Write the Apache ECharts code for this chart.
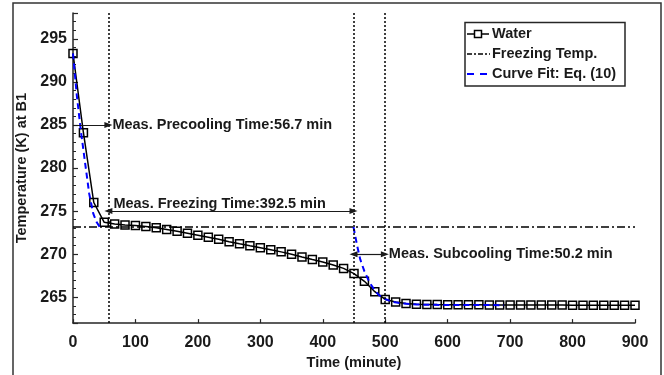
<!DOCTYPE html>
<html>
<head>
<meta charset="utf-8">
<script src="https://cdn.jsdelivr.net/npm/echarts@6/dist/echarts.min.js"></script>
<style>html,body{margin:0;padding:0;background:#fff;}#c{width:664px;height:375px;}</style>
</head>
<body>
<div id="c"></div>
<script>
// ---- data ----
const waterTime = [0,16.7,33.3,50,66.7,83.3,100,116.7,133.3,150,166.7,183.3,200,216.7,233.3,250,266.7,283.3,300,316.7,333.3,350,366.7,383.3,400,416.7,433.3,450,466.7,483.3,500,516.7,533.3,550,566.7,583.3,600,616.7,633.3,650,666.7,683.3,700,716.7,733.3,750,766.7,783.3,800,816.7,833.3,850,866.7,883.3,900];
const waterTemp = [293.3,284.1,276.0,273.7,273.5,273.4,273.32,273.22,273.06,272.87,272.66,272.43,272.2,271.97,271.73,271.45,271.2,270.97,270.75,270.52,270.27,270.0,269.68,269.38,269.1,268.75,268.35,267.75,266.85,265.65,264.75,264.45,264.28,264.2,264.17,264.15,264.14,264.13,264.12,264.12,264.11,264.11,264.10,264.10,264.10,264.09,264.09,264.09,264.08,264.08,264.08,264.08,264.07,264.07,264.07];
const fitPreTime = [0,6,12,19,26,32.5,38,43];
const fitPreTemp = [293.3,288.5,284.65,280.8,277.0,274.7,273.7,273.15];
const fitSubTime = [449.2,455,460,466.7,475,483.3,490,500,510,525,550,600,650,690];
const fitSubTemp = [273.15,271.0,269.4,268.0,266.7,265.8,265.25,264.8,264.5,264.3,264.15,264.1,264.1,264.08];
const freezeTemp = 273.15;
const freezeLineX = [0, 900];
const precoolTime = 56.7, freezingTime = 392.5, subcoolTime = 50.2;
const arrowY = [285, 275, 270];
const xTicks = [0, 900, 100];
const yRange = [262, 298];
const legendNames = ['Water', 'Freezing Temp.', 'Curve Fit: Eq. (10)'];

// ---- build ----
const FONT = '"Liberation Sans", Arial, sans-serif';
const TXT = '#1a1a1a';
const AX = '#262626';
const zip = (a, b) => a.map((v, i) => [v, b[i]]);
const tFreezeEnd = +(precoolTime + freezingTime).toFixed(1);
const tSubEnd = +(tFreezeEnd + subcoolTime).toFixed(1);

const dotted = { color: '#000', width: 1.5, type: [2, 2] };
const arrowStyle = { color: '#1a1a1a', width: 1.2, type: 'solid' };
const annLabel = (text, pos, dist) => ({
  show: true, position: pos, formatter: text, distance: dist,
  color: TXT, fontFamily: FONT, fontWeight: 'bold', fontSize: 14.5
});

const chart = echarts.init(document.getElementById('c'), null, { renderer: 'canvas' });
chart.setOption({
  animation: false,
  backgroundColor: '#fff',
  grid: { left: 73, right: 29, top: 13, bottom: 49, containLabel: false },
  xAxis: {
    type: 'value', min: xTicks[0], max: xTicks[1], interval: xTicks[2],
    name: 'Time (minute)', nameLocation: 'middle', nameGap: 30,
    nameTextStyle: { color: TXT, fontFamily: FONT, fontWeight: 'bold', fontSize: 14.5 },
    axisLine: { lineStyle: { color: AX, width: 1.5 } },
    axisTick: { inside: true, length: 4, lineStyle: { color: AX, width: 1.2 } },
    axisLabel: { margin: 11, color: TXT, fontFamily: FONT, fontWeight: 'bold', fontSize: 16 },
    splitLine: { show: false }
  },
  yAxis: [
    {
      type: 'value', min: yRange[0], max: yRange[1], interval: 1, position: 'left',
      axisLine: { show: true, lineStyle: { color: AX, width: 1.5 } },
      axisTick: { show: true, inside: true, length: 3, lineStyle: { color: AX, width: 1 } },
      axisLabel: { show: false }, splitLine: { show: false }
    },
    {
      type: 'value', min: yRange[0], max: yRange[1], position: 'left', splitNumber: 7,
      name: 'Temperature (K) at B1', nameLocation: 'middle', nameGap: 38,
      nameTextStyle: { color: TXT, fontFamily: FONT, fontWeight: 'bold', fontSize: 14.5 },
      axisLine: { show: false },
      axisTick: { show: true, inside: true, length: 5, lineStyle: { color: AX, width: 1.2 } },
      axisLabel: { margin: 6, color: TXT, fontFamily: FONT, fontWeight: 'bold', fontSize: 16,
        formatter: v => (Math.abs(v % 5) < 1e-6 ? String(v) : '') },
      splitLine: { show: false }
    }
  ],
  series: [
    {
      name: legendNames[0], type: 'line', yAxisIndex: 0, data: zip(waterTime, waterTemp),
      symbol: 'rect', symbolSize: 8, showAllSymbol: true,
      itemStyle: { color: 'rgba(255,255,255,0)', borderColor: '#000', borderWidth: 1.5 },
      lineStyle: { color: '#000', width: 1.5 }, z: 3
    },
    {
      name: legendNames[1], type: 'line', yAxisIndex: 0,
      data: freezeLineX.map(x => [x, freezeTemp]), showSymbol: false, symbol: 'none',
      lineStyle: { color: '#000', width: 1.5, type: [8, 3, 2, 3] }, z: 2,
      markLine: {
        silent: true, animation: false, symbol: ['none', 'none'], symbolSize: [6, 8],
        label: { show: false },
        data: [
          { xAxis: precoolTime, lineStyle: dotted, label: { show: false } },
          { xAxis: tFreezeEnd, lineStyle: dotted, label: { show: false } },
          { xAxis: tSubEnd, lineStyle: dotted, label: { show: false } },
          [
            { coord: [0, arrowY[0]], symbol: 'none' },
            { coord: [precoolTime, arrowY[0]], symbol: 'triangle', lineStyle: arrowStyle,
              label: annLabel('Meas. Precooling Time:' + precoolTime + ' min', 'end', 4) }
          ],
          [
            { coord: [precoolTime, arrowY[1]], symbol: 'triangle' },
            { coord: [tFreezeEnd, arrowY[1]], symbol: 'triangle', lineStyle: arrowStyle,
              label: annLabel('Meas. Freezing Time:' + freezingTime + ' min', 'insideStartTop', [5, -0.5]) }
          ],
          [
            { coord: [tFreezeEnd, arrowY[2]], symbol: 'triangle' },
            { coord: [tSubEnd, arrowY[2]], symbol: 'triangle', lineStyle: arrowStyle,
              label: annLabel('Meas. Subcooling Time:' + subcoolTime + ' min', 'end', 4) }
          ]
        ]
      }
    },
    {
      name: legendNames[2], type: 'line', yAxisIndex: 0, data: zip(fitPreTime, fitPreTemp),
      showSymbol: false, symbol: 'none', smooth: false,
      lineStyle: { color: '#0000ff', width: 2, type: [6, 4] }, z: 4
    },
    {
      name: legendNames[2] + ' ', type: 'line', yAxisIndex: 0, data: zip(fitSubTime, fitSubTemp),
      showSymbol: false, symbol: 'none',
      lineStyle: { color: '#0000ff', width: 2, type: [6, 4] }, z: 4
    }
  ],
  graphic: [
    { type: 'rect', silent: true, z: 0, shape: { x: 13, y: 3, width: 648, height: 390 },
      style: { fill: 'none', stroke: '#333', lineWidth: 1.5 } },
    { type: 'group', z: 100, children: [
      { type: 'rect', shape: { x: 465, y: 22.5, width: 160, height: 63.5 },
        style: { fill: '#fff', stroke: AX, lineWidth: 1.5 } },
      { type: 'line', shape: { x1: 467, y1: 34, x2: 489, y2: 34 }, style: { stroke: '#000', lineWidth: 1.5 } },
      { type: 'rect', shape: { x: 474.5, y: 30.5, width: 7, height: 7 }, style: { fill: '#fff', stroke: '#000', lineWidth: 1.5 } },
      { type: 'text', x: 492, y: 34, style: { text: legendNames[0], fill: TXT, font: 'bold 14.5px ' + FONT, textVerticalAlign: 'middle', verticalAlign: 'middle' } },
      { type: 'line', shape: { x1: 467, y1: 54, x2: 490, y2: 54 }, style: { stroke: '#000', lineWidth: 1.5, lineDash: [5, 2, 2, 2] } },
      { type: 'text', x: 492, y: 54, style: { text: legendNames[1], fill: TXT, font: 'bold 14.5px ' + FONT, textVerticalAlign: 'middle', verticalAlign: 'middle' } },
      { type: 'line', shape: { x1: 467, y1: 74, x2: 490, y2: 74 }, style: { stroke: '#0000ff', lineWidth: 2, lineDash: [7, 6] } },
      { type: 'text', x: 492, y: 74, style: { text: legendNames[2], fill: TXT, font: 'bold 14.5px ' + FONT, textVerticalAlign: 'middle', verticalAlign: 'middle' } }
    ] }
  ]
});
</script>
</body>
</html>
